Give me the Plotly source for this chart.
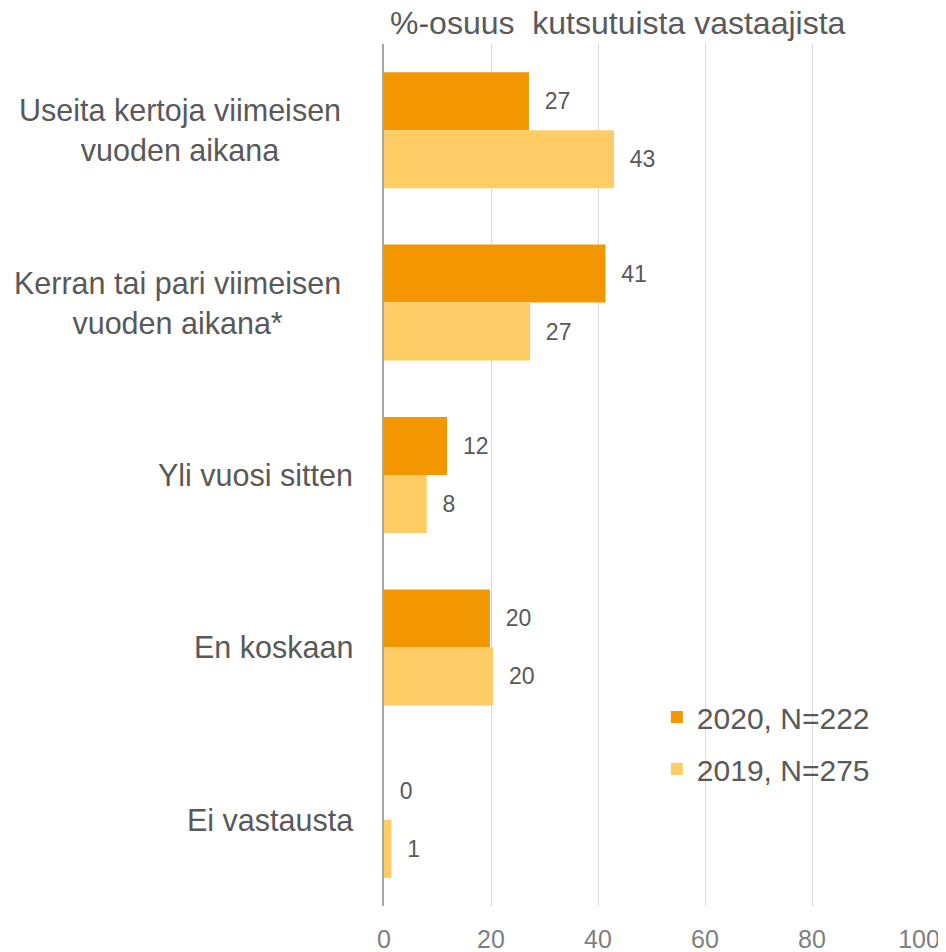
import plotly.graph_objects as go

categories = [
    "Useita kertoja viimeisen<br>vuoden aikana",
    "Kerran tai pari viimeisen<br>vuoden aikana*",
    "Yli vuosi sitten",
    "En koskaan",
    "Ei vastausta",
]
series_names = ["2020, N=222", "2019, N=275"]
values_2020 = [27.1, 41.4, 11.8, 19.8, 0]
values_2019 = [43.0, 27.3, 8.0, 20.4, 1.4]
labels_2020 = ["27", "41", "12", "20", "0"]
labels_2019 = ["43", "27", "8", "20", "1"]
tick_vals = [0, 20, 40, 60, 80, 100]
title_text = "%-osuus \u00a0kutsutuista vastaajista"

colors = ["#F39700", "#FFCC66"]
FONT = "Liberation Sans"
TXT = "#595959"

# page body has an 8px margin; compensate so the plot area lands where the reference has it
W, H = 938, 944

fig = go.Figure()
for name, vals, labs, col, grp in [
    (series_names[0], values_2020, labels_2020, colors[0], "a"),
    (series_names[1], values_2019, labels_2019, colors[1], "b"),
]:
    fig.add_trace(go.Bar(
        y=categories, x=vals, orientation="h", name=name,
        marker=dict(color=col, line=dict(width=0)),
        text=["\u00a0\u00a0" + t for t in labs],
        textposition="outside", cliponaxis=False,
        textfont=dict(family=FONT, size=23, color=TXT),
        legendgroup=grp,
    ))

for c in categories:
    fig.add_annotation(
        x=0, xref="paper", xshift=-41 if "<br>" in c else -29, xanchor="right",
        y=c, yref="y", yanchor="middle",
        text=c, showarrow=False, align="center",
        font=dict(family=FONT, size=30.5, color=TXT),
    )

fig.add_annotation(
    x=0, xref="paper", xanchor="left", xshift=4,
    y=1, yref="paper", yanchor="bottom", yshift=1,
    text=title_text, showarrow=False,
    font=dict(family=FONT, size=32, color=TXT),
)

fig.update_layout(
    width=W, height=H,
    margin=dict(l=376, r=27, t=36, b=46, autoexpand=False),
    paper_bgcolor="white", plot_bgcolor="white",
    barmode="group", bargap=0.327, bargroupgap=0,
    legend=dict(
        x=0.510, xanchor="left", y=0.189, yanchor="middle",
        font=dict(family=FONT, size=30, color=TXT),
        traceorder="grouped", tracegroupgap=10,
        bgcolor="rgba(0,0,0,0)",
    ),
    xaxis=dict(
        range=[0, 100], tickvals=tick_vals, automargin=False,
        showgrid=True, gridcolor="#d9d9d9", gridwidth=1,
        zeroline=False, showline=False,
        tickfont=dict(family=FONT, size=25, color="#7f7f7f"),
        ticks="", ticklabelstandoff=16,
    ),
    yaxis=dict(
        autorange="reversed", showticklabels=False, automargin=False,
        showline=True, linecolor="#a6a6a6", linewidth=2,
        showgrid=False, ticks="",
    ),
)

fig.write_html("out.html")
